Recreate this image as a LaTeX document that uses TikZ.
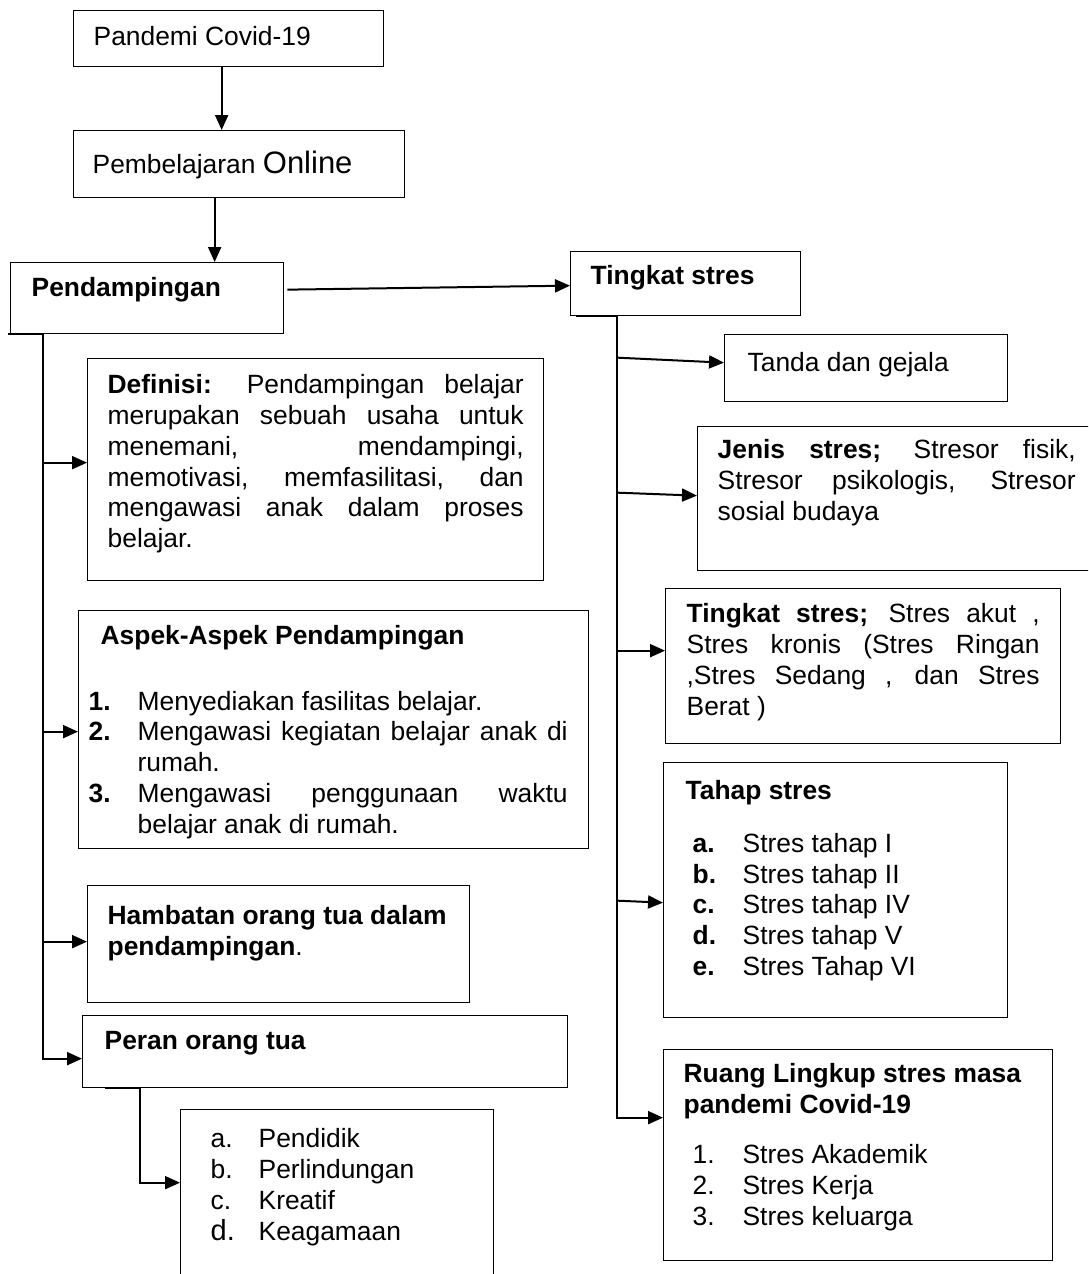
\documentclass[tikz,border=0pt]{standalone}
\usepackage{fontspec}
\setmainfont{Liberation Sans}
\usetikzlibrary{arrows.meta, positioning, calc}

% isi kotak: tinggi tetap, teks rata atas
\newcommand{\isi}[2]{\vbox to #1{\tolerance=10000\hbadness=10000\vbadness=10000%
  \hyphenpenalty=10000\exhyphenpenalty=10000 #2\par\vfil}}
% butir daftar dengan indentasi gantung
\newcommand{\butir}[3][25pt]{\par\noindent\hangindent=#1\hangafter=1%
  \makebox[#1][l]{#2}#3\par}

\tikzset{
  kotak/.style={draw, line width=0.65pt, anchor=north west, align=justify,
                font=\fontsize{13.2}{15.4}\selectfont},
  panah/.style={line width=1pt, -{Triangle[length=7.5pt, width=6.5pt]}},
  garis/.style={line width=1pt},
}

\begin{document}
\begin{tikzpicture}[x=0.5pt, y=-0.5pt]
  \useasboundingbox (0,0) rectangle (1088,1274);
  \clip (0,0) rectangle (1088,1274);

  %% (A) Alur atas ─────────────────────────────────────────────
  \node[kotak, inner xsep=10pt, inner ysep=8pt, text width=135pt]
    (pandemi) at (73,10) {\isi{12pt}{Pandemi Covid-19}};
  \node[kotak, inner xsep=9.5pt, inner ysep=10pt, text width=146.5pt]
    (daring) at (73,130)
    {\isi{13.5pt}{Pembelajaran {\fontsize{15.5}{17}\selectfont Online}}};
  \node[kotak, inner xsep=10.5pt, inner ysep=7.5pt, text width=115.5pt]
    (pendamp) at (10,262) {\isi{20.5pt}{\textbf{Pendampingan}}};
  \node[kotak, inner xsep=10pt, inner ysep=7pt, text width=95pt]
    (tingkat) at (570,251) {\isi{18pt}{\textbf{Tingkat stres}}};

  %% (B) Cabang pendampingan ───────────────────────────────────
  \node[kotak, inner xsep=10pt, inner ysep=8pt, text width=208pt]
    (definisi) at (87,358) {\isi{95pt}{%
      \textbf{Definisi:} Pendampingan belajar\linebreak
      merupakan sebuah usaha untuk\linebreak
      menemani, mendampingi,\linebreak
      memotivasi, memfasilitasi, dan\linebreak
      mengawasi anak dalam proses\linebreak
      belajar.}};
  \node[kotak, inner xsep=5pt, inner ysep=7.5pt, text width=245pt]
    (aspek) at (78,610) {\isi{104pt}{\rightskip=5.5pt\relax
      \hspace*{6pt}\textbf{Aspek-Aspek Pendampingan}\par\vspace{17.3pt}
      \butir[24.5pt]{\textbf{1.}}{Menyediakan fasilitas belajar.}
      \butir[24.5pt]{\textbf{2.}}{Mengawasi kegiatan belajar anak di\linebreak rumah.}
      \butir[24.5pt]{\textbf{3.}}{Mengawasi penggunaan waktu\linebreak
        belajar anak di rumah.}}};
  \node[kotak, inner xsep=10pt, inner ysep=10pt, text width=171pt]
    (hambatan) at (87,885)
    {\isi{38.5pt}{\textbf{Hambatan orang tua dalam\\ pendampingan}.}};
  \node[kotak, inner xsep=11pt, inner ysep=8pt, text width=220.5pt]
    (peran) at (82,1015) {\isi{20pt}{\textbf{Peran orang tua}}};
  \node[kotak, inner xsep=15pt, inner ysep=9.5pt, text width=126.5pt]
    (pendidik) at (180,1109) {\isi{76.5pt}{%
      \butir[24pt]{a.}{Pendidik}
      \butir[24pt]{b.}{Perlindungan}
      \butir[24pt]{c.}{Kreatif}
      \butir[24pt]{{\fontsize{14.5}{15.4}\selectfont d.}}{Keagamaan}}};

  %% (C) Cabang tingkat stres ──────────────────────────────────
  \node[kotak, inner xsep=11.5pt, inner ysep=9pt, text width=118.5pt]
    (tanda) at (724,334) {\isi{15.5pt}{Tanda dan gejala}};
  \node[kotak, inner xsep=10pt, inner ysep=6.5pt, text width=189pt]
    (jenis) at (697,426) {\isi{59pt}{\rightskip=10pt\relax
      \textbf{Jenis stres;} Stresor fisik,\linebreak
      Stresor psikologis, Stresor\linebreak
      sosial budaya}};
  \node[kotak, inner xsep=10.5pt, inner ysep=7.5pt, text width=176.5pt]
    (tingkat2) at (665,588) {\isi{62.5pt}{%
      \textbf{Tingkat stres;} Stres akut ,\linebreak
      Stres kronis (Stres Ringan\linebreak
      ,Stres Sedang , dan Stres\linebreak
      Berat )}};
  \node[kotak, inner xsep=11pt, inner ysep=9pt, text width=150pt]
    (tahap) at (663,762) {\isi{109.5pt}{%
      \textbf{Tahap stres}\par\vspace{10.85pt}\leftskip=3.5pt
      \butir{\textbf{a.}}{Stres tahap I}
      \butir{\textbf{b.}}{Stres tahap II}
      \butir{\textbf{c.}}{Stres tahap IV}
      \butir{\textbf{d.}}{Stres tahap V}
      \butir{\textbf{e.}}{Stres Tahap VI}}};
  \node[kotak, inner xsep=10pt, inner ysep=7pt, text width=174.5pt]
    (ruang) at (663,1049) {\isi{91.5pt}{%
      \textbf{Ruang Lingkup stres masa\\ pandemi Covid-19}\par
      \vspace{9.6pt}\leftskip=4.5pt
      \butir{1.}{Stres Akademik}
      \butir{2.}{Stres Kerja}
      \butir{3.}{Stres keluarga}}};

  %% Konektor ──────────────────────────────────────────────────
  \draw[panah] ([xshift=-3.5pt]pandemi.south)
    -- ([xshift=-3.5pt]pandemi.south |- daring.north);
  \draw[panah] ([xshift=-12.25pt]daring.south)
    -- ([xshift=-12.25pt]daring.south |- pendamp.north);
  \draw[panah] ([xshift=1.5pt, yshift=4.25pt]pendamp.east)
    -- ([yshift=-1pt]tingkat.west);

  % batang kiri
  \coordinate (kiri) at ([xshift=-1pt]pendamp.south west);
  \coordinate (kiri-t) at ([xshift=16.5pt]pendamp.south west);
  \draw[panah] (kiri) -- (kiri-t) |- ([yshift=-3.5pt]peran.west);
  \draw[panah] ([yshift=3.5pt]definisi.west -| kiri-t) -- ([yshift=3.5pt]definisi.west);
  \draw[panah] ([yshift=-1pt]aspek.west -| kiri-t) -- ([yshift=-1pt]aspek.west);
  \draw[panah] ([yshift=1.25pt]hambatan.west -| kiri-t) -- ([yshift=1.25pt]hambatan.west);
  \coordinate (peran-a) at ([xshift=11.5pt]peran.south west);
  \coordinate (peran-b) at ([xshift=29pt]peran.south west);
  \draw[panah] (peran-a) -- (peran-b) |- ([yshift=11.25pt]pendidik.west);

  % batang kanan
  \coordinate (kanan) at ([xshift=3pt]tingkat.south west);
  \coordinate (kanan-t) at ([xshift=23.5pt]tingkat.south west);
  \draw[panah] (kanan) -- (kanan-t) |- ([yshift=18.75pt]ruang.west);
  \draw[panah] ([yshift=5.25pt]tanda.west -| kanan-t) -- ([yshift=2.75pt]tanda.west);
  \draw[panah] ([yshift=3pt]jenis.west -| kanan-t) -- ([yshift=1.5pt]jenis.west);
  \draw[panah] ([yshift=7.75pt]tingkat2.west -| kanan-t) -- ([yshift=7.75pt]tingkat2.west);
  \draw[panah] ([yshift=-5.25pt]tahap.west -| kanan-t) -- ([yshift=-6.25pt]tahap.west);
\end{tikzpicture}
\end{document}
